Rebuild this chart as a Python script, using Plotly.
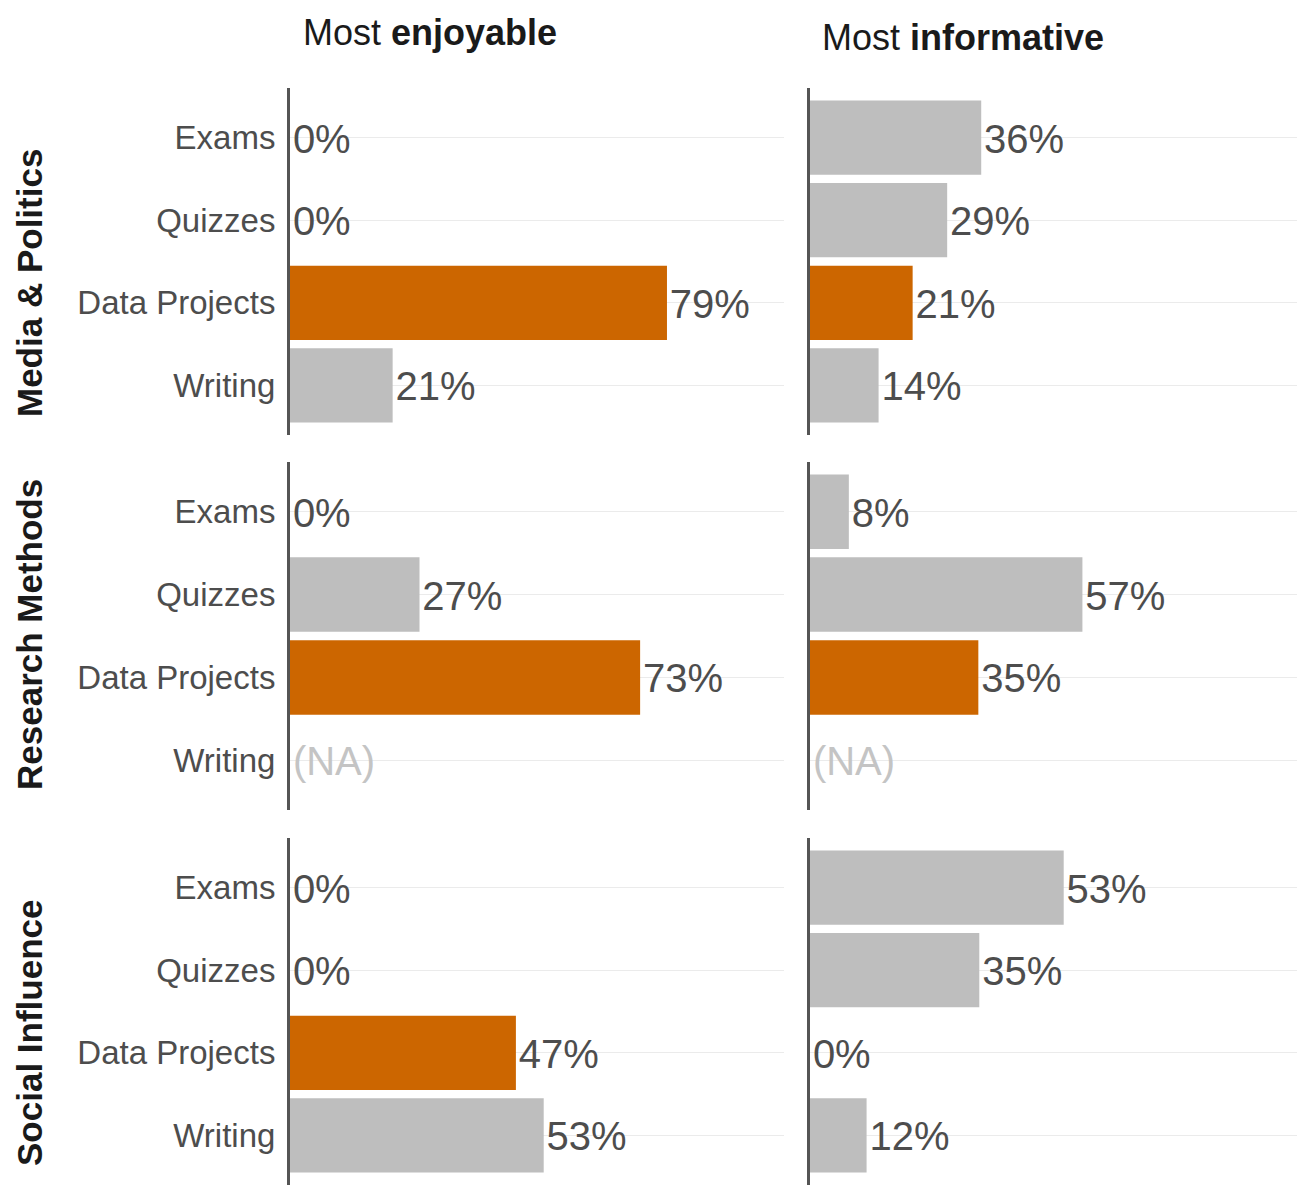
import plotly.graph_objects as go

# ---- data ----
categories = ["Exams", "Quizzes", "Data Projects", "Writing"]
courses = ["Media & Politics", "Research Methods", "Social Influence"]
measures = ["enjoyable", "informative"]

# percentages (None = not applicable)
mp_enjoyable = [0, 0, 78.6, 21.4]
mp_informative = [35.7, 28.6, 21.4, 14.3]
rm_enjoyable = [0, 27.0, 73.0, None]
rm_informative = [8.1, 56.8, 35.1, None]
si_enjoyable = [0, 0, 47.1, 52.9]
si_informative = [52.9, 35.3, 0, 11.8]

values = {
    ("Media & Politics", "enjoyable"): mp_enjoyable,
    ("Media & Politics", "informative"): mp_informative,
    ("Research Methods", "enjoyable"): rm_enjoyable,
    ("Research Methods", "informative"): rm_informative,
    ("Social Influence", "enjoyable"): si_enjoyable,
    ("Social Influence", "informative"): si_informative,
}

highlight = "Data Projects"
ORANGE = "#CC6600"
GREY = "#BEBEBE"
TXT = "#4D4D4D"
NA_TXT = "#C4C4C4"
FONT = "Liberation Sans, Arial, sans-serif"

W, H = 1305, 1185
OFF = 8  # page body margin offset


def px(x):
    return (x - OFF) / W


def py(y):
    return 1 - (y - OFF) / H


x_domains = [[px(290), px(784)], [px(810), px(1304)]]
y_domains = [
    [py(435), py(88)],
    [py(810), py(462)],
    [py(1185), py(838)],
]
LABEL_PAD = 0.6     # small gap between bar end and its label, in axis units
LABEL_DROP = 0.06   # optical vertical centring of value labels, in category units

cat_pos = list(range(len(categories)))

fig = go.Figure()
layout_axes = {}

for r, course in enumerate(courses):
    for c, meas in enumerate(measures):
        idx = r * 2 + c + 1
        sfx = "" if idx == 1 else str(idx)
        vals = values[(course, meas)]
        bar_x = [v if v is not None else 0 for v in vals]
        colors = [ORANGE if cat == highlight else GREY for cat in categories]
        fig.add_trace(go.Bar(
            x=bar_x, y=cat_pos, orientation="h",
            marker=dict(color=colors, line=dict(width=0)),
            width=0.9, xaxis="x" + sfx, yaxis="y" + sfx,
            showlegend=False, hoverinfo="skip",
        ))
        labels = [f"{round(v)}%" if v is not None else "(NA)" for v in vals]
        tcolors = [TXT if v is not None else NA_TXT for v in vals]
        fig.add_trace(go.Scatter(
            x=[v + LABEL_PAD for v in bar_x], y=[p + LABEL_DROP for p in cat_pos],
            mode="text", text=labels, textposition="middle right",
            textfont=dict(family=FONT, size=40, color=tcolors),
            xaxis="x" + sfx, yaxis="y" + sfx, cliponaxis=False,
            showlegend=False, hoverinfo="skip",
        ))
        layout_axes["xaxis" + sfx] = dict(
            domain=x_domains[c], range=[0, 103], anchor="y" + sfx,
            showgrid=False, zeroline=False, showticklabels=False,
            showline=False, ticks="", fixedrange=True,
        )
        layout_axes["yaxis" + sfx] = dict(
            domain=y_domains[r], anchor="x" + sfx,
            tickmode="array", tickvals=cat_pos, ticktext=categories,
            range=[3.6, -0.6],
            showgrid=True, gridcolor="#EBEBEB", gridwidth=1,
            showline=True, linecolor="#555555", linewidth=3,
            showticklabels=(c == 0), ticks="", ticklabelstandoff=5,
            tickfont=dict(family=FONT, size=33, color=TXT),
            zeroline=False, automargin=False, fixedrange=True,
        )

annotations = [
    dict(text="Most <b>enjoyable</b>", x=px(430), y=py(33), xref="paper", yref="paper",
         showarrow=False, font=dict(family=FONT, size=36, color="#1A1A1A"),
         xanchor="center", yanchor="middle"),
    dict(text="Most <b>informative</b>", x=px(963), y=py(37), xref="paper", yref="paper",
         showarrow=False, font=dict(family=FONT, size=36, color="#1A1A1A"),
         xanchor="center", yanchor="middle"),
]
row_centers = [283, 635, 1033]
for course, yc in zip(courses, row_centers):
    annotations.append(dict(
        text=f"<b>{course}</b>", x=px(29), y=py(yc), xref="paper", yref="paper",
        showarrow=False, textangle=-90, font=dict(family=FONT, size=35, color="#1A1A1A"),
        xanchor="center", yanchor="middle"))

fig.update_layout(
    width=W, height=H,
    margin=dict(l=0, r=0, t=0, b=0),
    plot_bgcolor="white", paper_bgcolor="white",
    bargap=0.1, annotations=annotations,
    **layout_axes,
)

fig.write_html("out.html")
